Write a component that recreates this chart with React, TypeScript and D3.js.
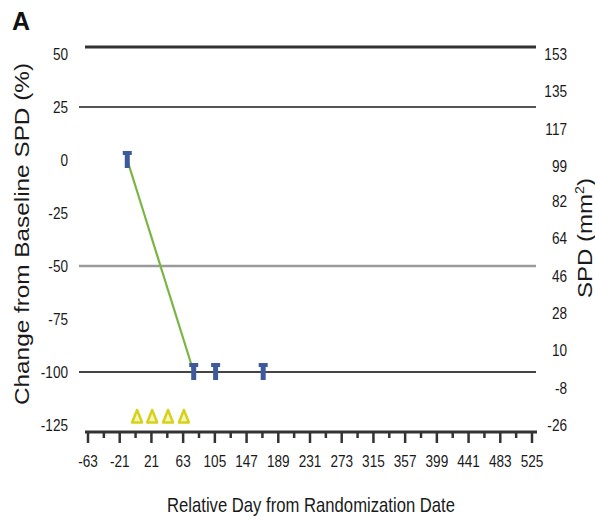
import React from "react";
import * as d3 from "d3";

const panelLabel = "A";
const xTickValues = d3.range(-63, 526, 21);
const xLabelValues = [-63, -21, 21, 63, 105, 147, 189, 231, 273, 315, 357, 399, 441, 483, 525];
const leftTickValues = [50, 25, 0, -25, -50, -75, -100, -125];
const rightTickValues = [153, 135, 117, 99, 82, 64, 46, 28, 10, -8, -26];
const refLineValues = [53.3, 25, -50, -100];
const spdDays = [-11, 77, 106, 169];
const spdPct = [0, -100, -100, -100];
const doseDays = [2, 22, 43, 64];
const doseLevel = -121;
const xTitle = "Relative Day from Randomization Date";
const yTitle = "Change from Baseline SPD (%)";
const y2Title = "SPD (mm";

const W = 595;
const H = 519;
const SANS = "'Liberation Sans', Arial, sans-serif";
const NX = 0.8;

function Narrow({ x, y, anchor, size, children }: { x: number; y: number; anchor: string; size: number; children: any }) {
  return (
    <text
      transform={`translate(${x},${y}) scale(${NX},1)`}
      textAnchor={anchor}
      fontFamily={SANS}
      fontSize={size}
      fill="#1a1a1a"
    >
      {children}
    </text>
  );
}

export default function App() {
  const x = d3.scaleLinear().domain([-63, 525]).range([88, 532]);
  const y = d3.scaleLinear().domain([-100, 25]).range([372, 107]);
  const yR = d3.scaleLinear().domain([-26, 153]).range([425, 54]);
  const axisY = y(-128.3);

  const lineStyles = [
    { stroke: "#333", width: 3, x1: 85 },
    { stroke: "#555", width: 2, x1: 79 },
    { stroke: "#9a9a9a", width: 2.5, x1: 79 },
    { stroke: "#444", width: 2, x1: 79 },
  ];

  const pts = spdDays.map((d, i) => [x(d), y(spdPct[i])] as [number, number]);
  const linePath = d3.line()(pts.slice(0, 2)) || "";

  return (
    <svg
      width={W}
      height={H}
      style={{ position: "absolute", left: 0, top: 0, background: "#fff" }}
    >
      <rect x={0} y={0} width={W} height={H} fill="#fff" />
      <text x={12} y={30} fontFamily={SANS} fontWeight="bold" fontSize={25} fill="#111">
        {panelLabel}
      </text>

      {refLineValues.map((v, i) => (
        <line
          key={"r" + i}
          x1={lineStyles[i].x1}
          x2={536}
          y1={y(v)}
          y2={y(v)}
          stroke={lineStyles[i].stroke}
          strokeWidth={lineStyles[i].width}
        />
      ))}

      {/* x axis */}
      <line x1={85} x2={537} y1={axisY} y2={axisY} stroke="#333" strokeWidth={3} />
      {xTickValues.map((t) => {
        const major = xLabelValues.includes(t);
        return (
          <line
            key={"t" + t}
            x1={x(t)}
            x2={x(t)}
            y1={axisY}
            y2={axisY + (major ? 11 : 6)}
            stroke="#333"
            strokeWidth={2.5}
          />
        );
      })}
      {xLabelValues.map((t) => (
        <Narrow key={"xl" + t} x={x(t)} y={467} anchor="middle" size={17}>
          {t}
        </Narrow>
      ))}

      {leftTickValues.map((v) => (
        <Narrow key={"ll" + v} x={68} y={y(v) + 6} anchor="end" size={17}>
          {v}
        </Narrow>
      ))}
      {rightTickValues.map((v) => (
        <Narrow key={"rl" + v} x={567} y={yR(v) + 6} anchor="end" size={17}>
          {v}
        </Narrow>
      ))}

      {/* dosing triangles */}
      {doseDays.map((d) => {
        const cx = x(d);
        const cy = y(doseLevel);
        return (
          <path
            key={"tr" + d}
            d={`M${cx},${cy - 6.5}L${cx - 5},${cy + 6}L${cx + 5},${cy + 6}Z`}
            fill="#f6f4b8"
            stroke="#d4d21c"
            strokeWidth={2.5}
            strokeLinejoin="round"
          />
        );
      })}

      {/* green line */}
      <path d={linePath} fill="none" stroke="#7ab544" strokeWidth={2.2} />

      {/* markers */}
      {pts.map(([cx, cy], i) => (
        <g key={"m" + i} fill="#3d5a9c">
          <rect x={cx - 4.5} y={cy - 9} width={9} height={4} />
          <rect x={cx - 2.5} y={cy - 9} width={5} height={17} />
        </g>
      ))}

      {/* titles */}
      <text
        x={311}
        y={512}
        textAnchor="middle"
        fontFamily={SANS}
        fontSize={21}
        fill="#1a1a1a"
        textLength={288}
        lengthAdjust="spacingAndGlyphs"
      >
        {xTitle}
      </text>
      <text
        transform={`translate(29,234) rotate(-90)`}
        textAnchor="middle"
        fontFamily={SANS}
        fontSize={21}
        fill="#1a1a1a"
        textLength={342}
        lengthAdjust="spacingAndGlyphs"
      >
        {yTitle}
      </text>
      <text
        transform={`translate(592,238) rotate(-90)`}
        textAnchor="middle"
        fontFamily={SANS}
        fontSize={20}
        fill="#1a1a1a"
        textLength={120}
        lengthAdjust="spacingAndGlyphs"
      >
        {y2Title}
        <tspan dy={-8} fontSize={12}>2</tspan>
        <tspan dy={8}>)</tspan>
      </text>
    </svg>
  );
}
